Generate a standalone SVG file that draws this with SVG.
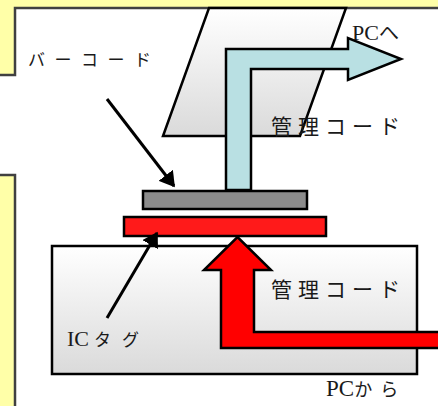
<svg xmlns="http://www.w3.org/2000/svg" width="438" height="406" viewBox="0 0 438 406">
<style>
.lbl{font-family:"Liberation Serif","Noto Sans CJK JP",serif;fill:#1a1a1a;}
.jp{font-family:"Noto Sans CJK JP","Liberation Serif",serif;font-weight:normal;}
.frame{fill:#ffffa8;stroke:none;}
.edge{stroke:#404040;stroke-width:2.5;fill:none;}
.outline{stroke:#000;stroke-width:2.5;}
.ptr{stroke:#000;stroke-width:3;fill:none;marker-end:url(#ah);}
</style>
<defs>
<linearGradient id="gr" x1="0" y1="0" x2="0" y2="1">
<stop offset="0" stop-color="#ffffff"/>
<stop offset="1" stop-color="#dadada"/>
</linearGradient>
<marker id="ah" markerWidth="6" markerHeight="6" refX="4.5" refY="3" orient="auto" markerUnits="strokeWidth">
<path d="M0,0 L5,3 L0,6 z" fill="#000"/>
</marker>
</defs>
<rect width="438" height="406" fill="#fff"/>
<g id="frame">
<path class="frame" d="M0,0 H438 V8 H15 V75 H0 z"/>
<path class="edge" d="M0,75 H15 V8 H438"/>
<path class="frame" d="M0,175 H15 V406 H0 z"/>
<path class="edge" d="M0,175 H15 V406"/>
</g>
<g id="monitor">
<path d="M209,8 L346,8 L300,136 L163,136 z" fill="url(#gr)" class="outline"/>
</g>
<g id="reader">
<rect x="52" y="246" width="365" height="128" fill="url(#gr)" class="outline"/>
</g>
<g id="barcode">
<rect x="143" y="191" width="164" height="18" fill="#8c8c8c" class="outline"/>
</g>
<g id="ictag">
<rect x="124" y="217" width="202" height="19" fill="#ff1a1a" class="outline"/>
</g>
<g id="connectors">
<path d="M226,190 V49 H348 V38 L401,59 L348,80 V69 H251 V190 z" fill="#b9e0e3" class="outline"/>
<path d="M221,348 V270 H204 L237.5,237 L271,270 H254 V332 H442 V348 z" fill="#ff0000" class="outline"/>
<line class="ptr" x1="107" y1="99" x2="174" y2="186"/>
<line class="ptr" x1="107" y1="318" x2="157" y2="233"/>
</g>
<g id="labels">
<text class="lbl jp" x="28" y="66" font-size="17" letter-spacing="9.5">バーコード</text>
<text class="lbl" x="352" y="40" font-size="22">PC<tspan class="jp" font-size="20">へ</tspan></text>
<text class="lbl jp" x="271" y="134" font-size="21" letter-spacing="6">管理コード</text>
<text class="lbl jp" x="271" y="297" font-size="21" letter-spacing="6">管理コード</text>
<text class="lbl" x="67" y="346" font-size="22">IC<tspan class="jp" font-size="17" dx="5" letter-spacing="11">タグ</tspan></text>
<text class="lbl" x="326" y="396" font-size="23">PC<tspan class="jp" font-size="18" letter-spacing="8">から</tspan></text>
</g>
</svg>
